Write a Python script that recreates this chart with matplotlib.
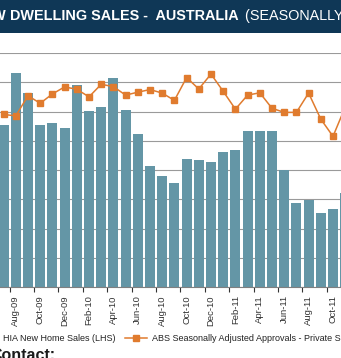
import matplotlib
matplotlib.use('Agg')
import matplotlib.pyplot as plt
from matplotlib.lines import Line2D
from matplotlib.patches import Rectangle

plt.rcParams['font.family'] = ['Liberation Sans', 'DejaVu Sans']

months = ['Jul-09', 'Aug-09', 'Sep-09', 'Oct-09', 'Nov-09', 'Dec-09',
          'Jan-10', 'Feb-10', 'Mar-10', 'Apr-10', 'May-10', 'Jun-10',
          'Jul-10', 'Aug-10', 'Sep-10', 'Oct-10', 'Nov-10', 'Dec-10',
          'Jan-11', 'Feb-11', 'Mar-11', 'Apr-11', 'May-11', 'Jun-11',
          'Jul-11', 'Aug-11', 'Sep-11', 'Oct-11', 'Nov-11']
hia_sales = [5540, 7330, 6630, 5550, 5610, 5430, 6900, 6020, 6140, 7150,
             6050, 5230, 4150, 3780, 3540, 4370, 4340, 4260, 4620, 4690,
             5320, 5340, 5320, 3990, 2860, 2980, 2530, 2670, 3220]
abs_approvals = [9900, 9850, 10540, 10280, 10600, 10840, 10760, 10500, 10930, 10850,
                 10560, 10660, 10750, 10630, 10380, 11160, 10770, 11280, 10690, 10080,
                 10560, 10640, 10110, 9970, 9970, 10630, 9740, 9150, 10150]
lhs_range = (0, 8000)
rhs_range = (4000, 12000)
grid_step = 1000

W, H = 341, 358
fig = plt.figure(figsize=(W / 100, H / 100), dpi=100)

# title bar
navy = '#0F3756'
fig.patches.append(Rectangle((0, 1 - 33 / H), 1, 33 / H, transform=fig.transFigure,
                             facecolor=navy, edgecolor='none', zorder=0))
tb = 1 - 20.3 / H
fig.text(6 / W, tb, 'NEW', ha='right', va='baseline', color='white',
         fontsize=10.4, fontweight='bold')
fig.text(10 / W, tb, 'DWELLING SALES -  AUSTRALIA', ha='left', va='baseline',
         color='white', fontsize=10.4, fontweight='bold')
fig.text(245 / W, tb, '(SEASONALLY  ADJUSTED)', ha='left', va='baseline',
         color='white', fontsize=10.4)

# axes
n = len(months)
left_px, right_px = -2.5, -2.5 + 12.2 * n
ax = fig.add_axes([left_px / W, (H - 287) / H, (right_px - left_px) / W, 234 / H])
x = list(range(n))
ax.bar(x, hia_sales, width=0.82, color='#6496A6', zorder=2)
ax.set_xlim(-0.5, n - 0.5)
ax.set_ylim(*lhs_range)
ax.set_yticks(range(lhs_range[0], lhs_range[1] + 1, grid_step))
ax.yaxis.grid(True, color='#9A9A9A', linewidth=0.8)
ax.set_axisbelow(True)
ax.tick_params(axis='y', left=False, labelleft=False)
for s in ['left', 'right', 'top']:
    ax.spines[s].set_visible(False)
ax.spines['bottom'].set_color('#808080')
ax.spines['bottom'].set_linewidth(0.8)

# ticks at category boundaries, labels at every second category
ax.set_xticks([i - 0.5 for i in range(1, n + 1, 2)])
ax.set_xticklabels([])
ax.tick_params(axis='x', which='major', length=3.5, width=0.8, color='#333333', direction='out')
ax.set_xticks(list(range(1, n, 2)), minor=True)
ax.set_xticklabels([months[i] for i in range(1, n, 2)], minor=True, rotation=90,
                   fontsize=6.8, color='#333333')
ax.tick_params(axis='x', which='minor', length=0, pad=6)

ax2 = ax.twinx()
ax2.plot(x, abs_approvals, color='#E07B2E', linewidth=1.1, marker='s',
         markersize=4.3, markerfacecolor='#E07B2E', markeredgecolor='#E07B2E', zorder=3)
ax2.set_ylim(*rhs_range)
ax2.tick_params(axis='y', right=False, labelright=False)
for s in ax2.spines.values():
    s.set_visible(False)

# legend
ly = 1 - 341 / H
fig.text(2.7 / W, ly, 'HIA New Home Sales (LHS)', ha='left', va='baseline',
         fontsize=6.5, color='#222222')
my = 1 - 337.5 / H
fig.add_artist(Line2D([125 / W, 147 / W], [my, my], transform=fig.transFigure,
                      color='#E07B2E', linewidth=1.1))
fig.add_artist(Line2D([136 / W], [my], transform=fig.transFigure, marker='s',
                      markersize=4.3, color='#E07B2E', linestyle='none'))
fig.text(151.7 / W, ly, 'ABS Seasonally Adjusted Approvals - Private Sector Houses (RHS)',
         ha='left', va='baseline', fontsize=6.5, color='#222222')

# cut-off text at bottom
fig.text(-9.5 / W, -2 / H, 'Contact:', ha='left', va='baseline', fontsize=11.5,
         fontweight='bold', color='#1A1A1A')

fig.savefig('out.png', dpi=100)
